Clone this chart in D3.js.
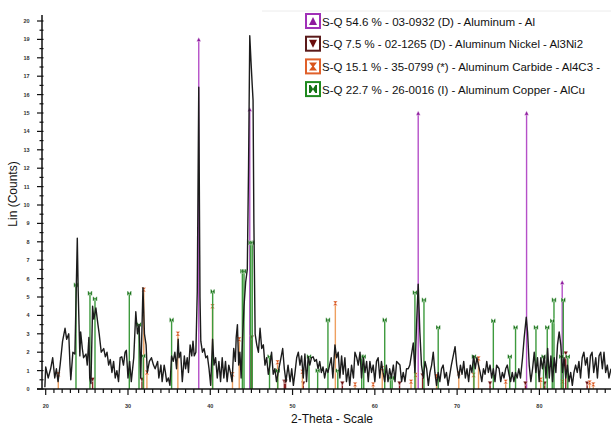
<!DOCTYPE html>
<html>
<head>
<meta charset="utf-8">
<script src="https://cdn.jsdelivr.net/npm/d3@7"></script>
<style>
  body { margin: 0; background: #fff; }
  svg { display: block; font-family: "Liberation Sans", Arial, sans-serif; }
</style>
</head>
<body>
<svg id="chart" width="611" height="426"></svg>
<script>
// measured scan (2-theta, counts)
const scanTheta = [19.9,20.0,20.3,20.6,20.85,21.1,21.3,21.5,21.75,22.05,22.35,22.55,22.8,22.95,23.05,23.3,23.55,23.84,23.95,24.05,24.15,24.25,24.45,24.6,24.9,25.05,25.25,25.35,25.5,25.7,25.85,26.1,26.35,26.5,26.75,27.05,27.25,27.45,27.65,27.85,28.05,28.25,28.45,28.65,28.85,29.05,29.25,29.45,29.65,29.8,30.0,30.2,30.4,30.7,30.95,31.15,31.35,31.55,31.82,32.0,32.2,32.35,32.6,32.85,33.1,33.3,33.6,33.75,34.0,34.15,34.4,34.55,34.7,34.9,35.1,35.3,35.5,35.7,35.9,36.1,36.2,36.4,36.6,36.85,37.0,37.2,37.35,37.55,37.75,37.9,38.05,38.25,38.42,38.6,38.75,38.85,39.05,39.25,39.45,39.65,39.85,40.05,40.28,40.45,40.65,40.85,41.05,41.25,41.45,41.65,41.85,42.05,42.25,42.45,42.65,42.85,43.05,43.15,43.3,43.45,43.6,43.75,43.9,44.1,44.3,44.5,44.65,44.8,44.95,45.1,45.2,45.3,45.45,45.65,45.85,46.05,46.25,46.45,46.65,46.85,47.05,47.25,47.45,47.65,47.85,48.05,48.25,48.55,48.8,49.0,49.2,49.45,49.7,49.9,50.1,50.3,50.5,50.7,50.9,51.1,51.3,51.5,51.7,51.9,52.1,52.3,52.5,52.7,52.9,53.1,53.3,53.5,53.7,53.9,54.1,54.3,54.5,54.7,54.9,55.15,55.35,55.55,55.75,55.96,56.15,56.36,56.55,56.77,56.95,57.17,57.4,57.58,57.8,57.98,58.2,58.38,58.6,58.8,59.0,59.2,59.4,59.6,59.8,60.0,60.2,60.4,60.6,60.8,61.0,61.2,61.4,61.6,61.8,62.0,62.25,62.45,62.65,62.85,63.05,63.25,63.45,63.66,63.85,64.06,64.25,64.5,64.67,64.87,65.07,65.27,65.47,65.67,65.9,66.1,66.3,66.5,66.7,66.9,67.1,67.3,67.5,67.7,67.9,68.1,68.3,68.5,68.7,68.9,69.3,69.75,69.95,70.2,70.4,70.6,70.8,71.0,71.2,71.4,71.6,71.8,72.0,72.2,72.4,72.6,72.8,73.0,73.2,73.4,73.6,73.8,74.0,74.2,74.4,74.6,74.8,75.1,75.3,75.5,75.7,75.9,76.1,76.3,76.5,76.7,76.9,77.1,77.3,77.5,77.7,77.95,78.15,78.4,78.56,78.76,78.96,79.17,79.37,79.57,79.77,79.97,80.17,80.37,80.6,80.8,81.0,81.2,81.4,81.6,81.8,82.0,82.2,82.4,82.6,82.8,83.0,83.2,83.4,83.6,83.8,84.0,84.2,84.4,84.6,84.8,85.0,85.2,85.4,85.6,85.8,86.0,86.2,86.4,86.6,86.85,87.05,87.25,87.45,87.65,87.85,88.05,88.25,88.45,88.7];
const scanCounts = [0.1,1.2,0.6,1.1,1.7,0.6,1.1,0.4,1.3,2.6,3.3,2.7,3.0,1.3,0.5,2.0,1.9,8.2,5.3,3.5,1.8,3.1,2.2,1.7,1.9,1.3,2.8,0.6,0.3,4.5,3.8,4.4,3.5,3.0,2.0,2.2,1.75,2.0,1.3,1.6,0.9,1.5,0.6,1.0,0.4,1.7,1.75,1.3,2.0,2.1,0.6,1.5,0.4,1.7,4.2,3.0,3.5,0.6,5.5,3.0,2.4,0.9,1.5,1.7,1.3,1.1,1.5,0.6,1.3,0.4,1.3,0.9,0.4,0.6,0.2,1.8,1.5,2.0,1.1,2.7,1.7,2.0,0.4,1.8,1.1,1.7,0.9,2.4,1.8,2.6,1.8,2.0,5.3,16.4,5.0,2.6,2.0,2.2,1.7,1.8,1.1,0.2,2.7,1.3,1.7,0.6,1.5,0.4,1.7,0.6,1.5,0.4,1.3,0.9,0.4,2.2,1.5,2.8,3.5,1.3,2.0,0.6,2.5,4.5,5.8,6.5,12.0,19.2,17.8,16.5,15.7,9.0,3.0,2.4,2.0,3.3,2.2,2.4,1.3,1.7,0.8,1.3,2.0,0.8,1.1,0.4,0.9,1.6,2.2,1.1,0.4,1.3,0.4,1.1,0.2,0.9,1.7,2.0,1.3,1.8,0.6,1.9,0.4,1.75,1.3,1.7,1.75,1.5,1.6,1.1,1.5,0.9,1.2,0.6,1.1,0.9,1.3,1.7,0.6,2.4,1.7,2.0,0.6,1.8,0.8,1.7,0.4,1.1,0.2,1.3,0.6,2.0,1.7,1.3,2.0,0.6,1.7,0.9,1.5,0.4,1.5,0.9,1.3,0.4,1.5,1.7,0.6,1.5,0.9,0.4,1.3,0.4,1.1,0.6,1.3,0.4,1.5,1.4,1.3,0.4,0.9,0.4,1.1,1.1,1.3,2.0,2.5,0.9,3.5,5.7,3.1,1.3,0.6,1.5,1.1,0.2,0.9,1.3,2.0,0.9,0.2,0.9,0.4,1.1,1.3,0.6,0.9,0.2,1.3,2.3,1.3,0.6,1.3,0.8,1.5,0.6,1.1,0.4,1.3,0.9,1.8,1.1,1.7,1.3,0.9,0.4,1.1,0.8,1.5,0.9,1.3,0.6,1.1,0.4,1.3,1.1,0.4,0.9,0.6,1.1,1.3,0.8,0.4,0.9,0.4,0.9,0.6,1.1,0.6,1.7,2.8,3.9,3.1,1.3,0.4,1.1,2.0,0.9,1.7,0.4,1.7,1.1,1.8,0.6,2.2,0.6,1.8,0.4,1.7,0.9,2.4,3.1,2.4,0.9,1.7,0.6,1.3,0.4,0.9,0.2,0.9,1.3,0.9,1.5,0.6,1.7,2.0,1.3,1.7,0.6,1.8,2.0,0.9,1.7,0.6,1.8,2.0,1.1,2.0,0.9,1.3,0.6,1.1];

// reference patterns (2-theta, stick height)
const alTheta = [38.6, 44.8, 65.27, 78.44, 82.77];
const alHeight = [19.0, 15.2, 15.0, 15.0, 5.8];
const niTheta = [25.7, 31.7, 45.05, 49.0, 49.15, 51.3, 56.05, 63.0, 65.8, 74.0, 78.3, 80.65, 83.2, 85.8];
const niHeight = [0.5, 0.5, 2.8, 0.4, 0.4, 0.3, 0.3, 0.3, 0.74, 0.3, 0.3, 0.3, 1.93, 0.3];
const carbTheta = [21.53, 31.92, 32.3, 36.06, 40.27, 42.7, 43.52, 48.18, 51.2, 55.2, 57.6, 59.8, 60.9, 64.4, 64.97, 67.5, 70.2, 72.0, 72.6, 75.9, 80.15, 82.8, 86.1, 86.55];
const carbHeight = [0.8, 5.4, 0.9, 3.0, 4.5, 0.8, 2.7, 1.45, 0.94, 4.66, 0.25, 0.25, 1.13, 0.4, 0.76, 0.7, 0.85, 0.76, 1.66, 0.4, 0.5, 0.4, 0.35, 0.25];
const cuTheta = [23.68, 25.38, 25.99, 30.16, 31.34, 31.86, 35.3, 40.29, 43.9, 44.1, 44.9, 45.1, 47.2, 48.2, 52.0, 53.05, 54.3, 55.5, 58.4, 58.65, 61.2, 61.9, 62.1, 64.87, 65.97, 67.7, 72.04, 74.4, 76.4, 77.1, 79.58, 80.5, 80.95, 81.56, 81.77, 82.65, 82.9, 83.45];
const cuHeight = [5.65, 5.2, 4.9, 5.2, 3.5, 1.8, 3.75, 5.3, 6.4, 6.4, 7.95, 7.95, 1.76, 1.0, 1.76, 1.0, 3.75, 1.0, 1.76, 1.76, 3.75, 0.6, 0.6, 5.24, 4.84, 3.35, 1.76, 3.7, 1.76, 3.35, 3.35, 1.76, 3.35, 3.7, 4.84, 1.76, 4.84, 1.76];

const legendLabels = [
  "S-Q 54.6 % - 03-0932 (D) - Aluminum - Al",
  "S-Q 7.5 % - 02-1265 (D) - Aluminum Nickel - Al3Ni2",
  "S-Q 15.1 % - 35-0799 (*) - Aluminum Carbide - Al4C3 -",
  "S-Q 22.7 % - 26-0016 (I) - Aluminum Copper - AlCu"
];
const xTickLabels = [20, 30, 40, 50, 60, 70, 80];
const yTickLabels = d3.range(0, 21);

const svg = d3.select("#chart");

let x = d3.scaleLinear().domain([19.55, 88.7]).range([42, 611]);
let y = d3.scaleLinear().domain([0, 20]).range([389, 21]);

// phase styling
const phases = [
  {key: "al", theta: alTheta, h: alHeight, stick: "#b550c8", mark: "#8e1a9e", box: "#a030b8", sym: "up", textLen: 213},
  {key: "ni", theta: niTheta, h: niHeight, stick: "#8a2020", mark: "#6a0c0c", box: "#5a1a1a", sym: "down", textLen: 261},
  {key: "carb", theta: carbTheta, h: carbHeight, stick: "#eea060", mark: "#d9531a", box: "#e0602a", sym: "hour", textLen: 278},
  {key: "cu", theta: cuTheta, h: cuHeight, stick: "#3d9a3d", mark: "#137013", box: "#1f8a1f", sym: "bow", textLen: 263}
];

function symbolPath(sym, s) {
  if (sym === "up") return `M0,${-s} L${s},${s} L${-s},${s} Z`;
  if (sym === "down") return `M${-s},${-s} L${s},${-s} L0,${s} Z`;
  if (sym === "hour") return `M${-s},${-s} L${s},${-s} L${s*0.2},0 L${s},${s} L${-s},${s} L${-s*0.2},0 Z`;
  // bow tie with end bars
  return `M${-s},${-s} L${-s*0.6},${-s} L0,${-s*0.1} L${s*0.6},${-s} L${s},${-s} L${s},${s} L${s*0.6},${s} L0,${s*0.1} L${-s*0.6},${s} L${-s},${s} Z`;
}

// sticks
phases.forEach(function(p) {
  const g = svg.append("g").attr("class", "phase-" + p.key);
  const pts = p.theta.map((t, i) => ({t: t, h: p.h[i]}));
  g.selectAll("line")
    .data(pts)
    .join("line")
      .attr("x1", d => x(d.t)).attr("x2", d => x(d.t))
      .attr("y1", y(0)).attr("y2", d => y(d.h))
      .attr("stroke", p.stick)
      .attr("stroke-width", 1.4);
  g.selectAll("path")
    .data(pts)
    .join("path")
      .attr("transform", d => `translate(${x(d.t)},${y(d.h)})`)
      .attr("d", symbolPath(p.sym, 2.2))
      .attr("fill", p.mark)
      .attr("stroke", "#fff")
      .attr("stroke-width", 0.4);
});

// scan line
const scan = scanTheta.map((t, i) => [t, scanCounts[i]]);
svg.append("path")
  .datum(scan)
  .attr("fill", "none")
  .attr("stroke", "#1c1c1c")
  .attr("stroke-width", 1.4)
  .attr("stroke-linejoin", "round")
  .attr("d", d3.line().x(d => x(d[0])).y(d => y(d[1])));

// axes
const axisG = svg.append("g").attr("stroke", "#111");
axisG.append("line").attr("x1", 42).attr("x2", 42).attr("y1", 15).attr("y2", y(0)).attr("stroke-width", 1.5);
axisG.append("line").attr("x1", 37).attr("x2", 611).attr("y1", y(0)).attr("y2", y(0)).attr("stroke-width", 1.5);

axisG.selectAll(".ytick")
  .data(d3.range(0, 20.5, 0.5))
  .join("line")
    .attr("x1", d => d % 1 === 0 ? 37 : 39.5).attr("x2", 43.5)
    .attr("y1", d => y(d)).attr("y2", d => y(d))
    .attr("stroke-width", 1.2);

axisG.selectAll(".xtick")
  .data(d3.range(20, 89, 1))
  .join("line")
    .attr("x1", d => x(d)).attr("x2", d => x(d))
    .attr("y1", y(0)).attr("y2", d => d % 10 === 0 ? y(0) + 6 : y(0) + 4)
    .attr("stroke-width", 1.2);

svg.append("g").selectAll("text")
  .data(yTickLabels)
  .join("text")
    .attr("x", 29.5).attr("y", d => y(d) + 2)
    .attr("text-anchor", "end")
    .attr("font-size", 5.5).attr("font-weight", "bold").attr("fill", "#333")
    .text(d => d);

svg.append("g").selectAll("text")
  .data(xTickLabels)
  .join("text")
    .attr("x", d => x(d)).attr("y", 408)
    .attr("text-anchor", "middle")
    .attr("font-size", 5.5).attr("font-weight", "bold").attr("fill", "#333")
    .text(d => d);

svg.append("text")
  .attr("transform", "translate(17,194) rotate(-90)")
  .attr("text-anchor", "middle")
  .attr("font-size", 12).attr("fill", "#111")
  .text("Lin (Counts)");

svg.append("text")
  .attr("x", 332).attr("y", 423)
  .attr("text-anchor", "middle")
  .attr("font-size", 12).attr("fill", "#111")
  .text("2-Theta - Scale");

// legend
svg.append("line").attr("x1", 262).attr("x2", 611).attr("y1", 11).attr("y2", 11)
  .attr("stroke", "#ececec").attr("stroke-width", 1);

const leg = svg.append("g").selectAll("g")
  .data(phases)
  .join("g")
    .attr("transform", (d, i) => `translate(305,${21 + i * 22.7})`);

leg.append("rect")
  .attr("x", 1).attr("y", -7).attr("width", 14).attr("height", 14)
  .attr("fill", "#fff").attr("stroke", d => d.box).attr("stroke-width", 2);

leg.append("path")
  .attr("transform", "translate(8,0)")
  .attr("d", d => symbolPath(d.sym, 4))
  .attr("fill", d => d.mark);

leg.append("text")
  .attr("x", 17).attr("y", 4.5)
  .attr("font-size", 11).attr("fill", "#111")
  .attr("textLength", d => d.textLen)
  .attr("lengthAdjust", "spacingAndGlyphs")
  .text((d, i) => legendLabels[i]);
</script>
</body>
</html>
